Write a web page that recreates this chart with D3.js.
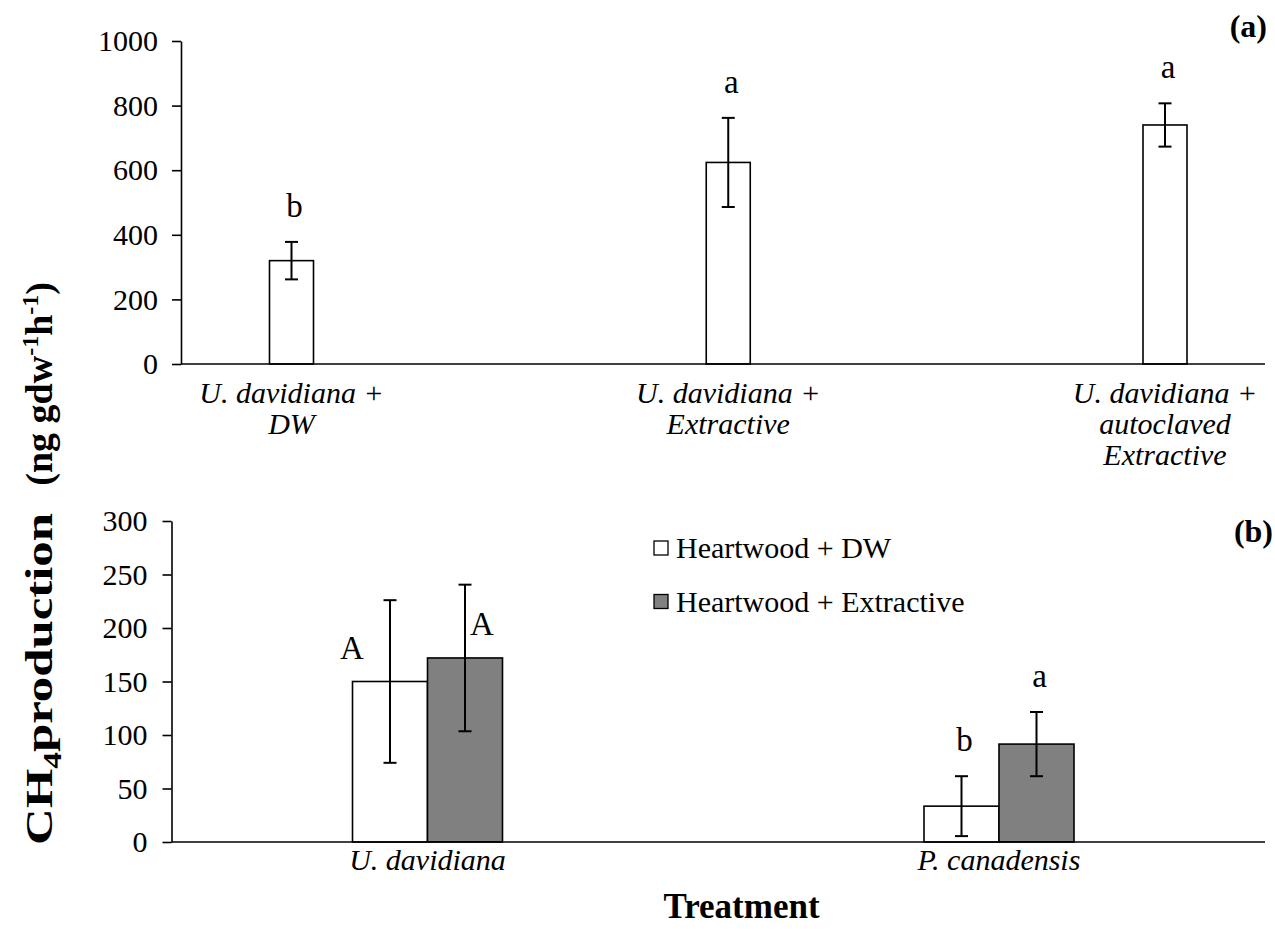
<!DOCTYPE html>
<html><head><meta charset="utf-8">
<script src="https://cdn.jsdelivr.net/npm/d3@7"></script>
<style>
body{margin:0;background:#fff}
svg{display:block}
text{font-family:"Liberation Serif","Times New Roman",serif;fill:#000}
</style>
</head><body>
<svg id="c" width="1275" height="929"></svg>
<script>
// ---------- Panel (a) data ----------
const catsA = [["U. davidiana +","DW"],["U. davidiana +","Extractive"],["U. davidiana +","autoclaved","Extractive"]];
const valuesA = [320, 624, 740];
const errorsA = [58, 138, 67];
const lettersA = ["b","a","a"];
const ticksA = [0,200,400,600,800,1000];

// ---------- Panel (b) data ----------
const groupsB = ["U. davidiana","P. canadensis"];
const seriesB = ["Heartwood + DW","Heartwood + Extractive"];
const valuesDW = [150, 33.5];
const errorsDW = [76, 28];
const valuesEx = [172, 91.5];
const errorsEx = [68.5, 30];
const lettersDW = ["A","b"];
const lettersEx = ["A","a"];
const ticksB = [0,50,100,150,200,250,300];
const colorsB = ["#ffffff","#808080"];

const svg = d3.select("#c");
const FONT = '"Liberation Serif","Times New Roman",serif';

function styleAxis(g, size){
  g.attr("font-family", FONT).attr("font-size", size);
  g.selectAll("path,line").attr("stroke","#000").attr("stroke-width",1.6);
  g.selectAll("text").attr("fill","#000");
}

// ================= Panel (a) =================
const yA = d3.scaleLinear().domain([0,1000]).range([364,41]);
const xA = d3.scalePoint().domain(d3.range(catsA.length)).range([291.5,1165]);
const xEndA = 1265, yAxisXA = 181;

const gA = svg.append("g");
gA.append("g").attr("transform",`translate(${yAxisXA},0)`)
  .call(d3.axisLeft(yA).tickValues(ticksA).tickFormat(d3.format("d")).tickSize(9).tickSizeOuter(0).tickPadding(14))
  .call(g=>styleAxis(g,30));

const bwA = 44;
const barsA = gA.selectAll(".barA").data(valuesA).join("g");
barsA.append("rect")
  .attr("x",(d,i)=>xA(i)-bwA/2).attr("width",bwA)
  .attr("y",d=>yA(d)).attr("height",d=>yA(0)-yA(d))
  .attr("fill","#fff").attr("stroke","#000").attr("stroke-width",1.6);
barsA.append("line")
  .attr("x1",(d,i)=>xA(i)).attr("x2",(d,i)=>xA(i))
  .attr("y1",(d,i)=>yA(d+errorsA[i])).attr("y2",(d,i)=>yA(d-errorsA[i]))
  .attr("stroke","#000").attr("stroke-width",2);
[1,-1].forEach(s=>{
  barsA.append("line")
    .attr("x1",(d,i)=>xA(i)-6.5).attr("x2",(d,i)=>xA(i)+6.5)
    .attr("y1",(d,i)=>yA(d+s*errorsA[i])).attr("y2",(d,i)=>yA(d+s*errorsA[i]))
    .attr("stroke","#000").attr("stroke-width",2);
});
barsA.append("text")
  .attr("x",(d,i)=>xA(i)+3).attr("y",(d,i)=>yA(d+errorsA[i])-25)
  .attr("text-anchor","middle").attr("font-size",33)
  .text((d,i)=>lettersA[i]);

// x axis line
gA.append("line").attr("x1",yAxisXA).attr("x2",xEndA).attr("y1",yA(0)).attr("y2",yA(0))
  .attr("stroke","#000").attr("stroke-width",1.6);

// category labels
catsA.forEach((lines,i)=>{
  const t = gA.append("text").attr("text-anchor","middle").attr("font-size",30)
    .attr("font-style","italic").attr("y",403);
  lines.forEach((l,j)=>t.append("tspan").attr("x",xA(i)).attr("dy",j===0?0:31).text(l));
});

gA.append("text").attr("x",1267).attr("y",37).attr("text-anchor","end")
  .attr("font-size",32).attr("font-weight","bold").text("(a)");

// ================= Panel (b) =================
const yB = d3.scaleLinear().domain([0,300]).range([842,521]);
const xB = d3.scalePoint().domain(groupsB).range([427.5,999]);
const xEndB = 1265, yAxisXB = 171.5;
const bwB = 75;

const gB = svg.append("g");
gB.append("g").attr("transform",`translate(${yAxisXB},0)`)
  .call(d3.axisLeft(yB).tickValues(ticksB).tickFormat(d3.format("d")).tickSize(9).tickSizeOuter(0).tickPadding(15))
  .call(g=>styleAxis(g,30));

const seriesData = [
  {vals:valuesDW, errs:errorsDW, letters:lettersDW, off:-1},
  {vals:valuesEx, errs:errorsEx, letters:lettersEx, off:0}
];
seriesData.forEach((s,si)=>{
  const g = gB.selectAll(null).data(s.vals).join("g");
  const cx = (d,i)=>xB(groupsB[i]) + s.off*bwB + bwB/2;
  g.append("rect")
    .attr("x",(d,i)=>xB(groupsB[i]) + s.off*bwB).attr("width",bwB)
    .attr("y",d=>yB(d)).attr("height",d=>yB(0)-yB(d))
    .attr("fill",colorsB[si]).attr("stroke","#000").attr("stroke-width",1.6);
  g.append("line")
    .attr("x1",cx).attr("x2",cx)
    .attr("y1",(d,i)=>yB(d+s.errs[i])).attr("y2",(d,i)=>yB(d-s.errs[i]))
    .attr("stroke","#000").attr("stroke-width",2);
  [1,-1].forEach(sg=>{
    g.append("line")
      .attr("x1",(d,i)=>cx(d,i)-6.5).attr("x2",(d,i)=>cx(d,i)+6.5)
      .attr("y1",(d,i)=>yB(d+sg*s.errs[i])).attr("y2",(d,i)=>yB(d+sg*s.errs[i]))
      .attr("stroke","#000").attr("stroke-width",2);
  });
  // significance letters: first group's letters sit beside the tall error bars
  g.append("text")
    .attr("text-anchor","middle").attr("font-size",33)
    .attr("x",(d,i)=> i===0 ? (si===0 ? cx(d,i)-38 : cx(d,i)+17) : cx(d,i)+3)
    .attr("y",(d,i)=> i===0 ? yB(d)-23 : yB(d+s.errs[i])-25)
    .text((d,i)=>s.letters[i]);
});

gB.append("line").attr("x1",yAxisXB).attr("x2",xEndB).attr("y1",yB(0)).attr("y2",yB(0))
  .attr("stroke","#000").attr("stroke-width",1.6);

gB.selectAll(".catB").data(groupsB).join("text")
  .attr("x",d=>xB(d)).attr("y",870).attr("text-anchor","middle")
  .attr("font-size",30).attr("font-style","italic").text(d=>d);

// legend
const leg = gB.append("g");
seriesB.forEach((s,i)=>{
  leg.append("rect").attr("x",654).attr("y",541+i*53.5).attr("width",14).attr("height",14)
    .attr("fill",colorsB[i]).attr("stroke","#000").attr("stroke-width",1.3);
  leg.append("text").attr("x",676).attr("y",558+i*53.5).attr("font-size",30).text(s);
});

gB.append("text").attr("x",1273).attr("y",542).attr("text-anchor","end")
  .attr("font-size",32).attr("font-weight","bold").text("(b)");

// axis titles
svg.append("text").attr("x",741.5).attr("y",918).attr("text-anchor","middle")
  .attr("font-size",35).attr("font-weight","bold").text("Treatment");

// y title, in two parts along the left edge
const yt2 = svg.append("text").attr("transform","translate(52,282) rotate(-90)")
  .attr("text-anchor","end").attr("font-size",38).attr("font-weight","bold");
yt2.append("tspan").text("(ng gdw");
yt2.append("tspan").attr("font-size",24).attr("dy",-14).text("-1");
yt2.append("tspan").attr("dy",14).text("h");
yt2.append("tspan").attr("font-size",24).attr("dy",-14).text("-1");
yt2.append("tspan").attr("dy",14).text(")");

const yt1 = svg.append("text").attr("transform","translate(52,845) rotate(-90)")
  .attr("text-anchor","start").attr("font-size",38).attr("font-weight","bold")
  .attr("textLength",332).attr("lengthAdjust","spacingAndGlyphs");
yt1.append("tspan").text("CH");
yt1.append("tspan").attr("font-size",25).attr("dy",9).text("4");
yt1.append("tspan").attr("dy",-9).text("production");
</script>
</body></html>
